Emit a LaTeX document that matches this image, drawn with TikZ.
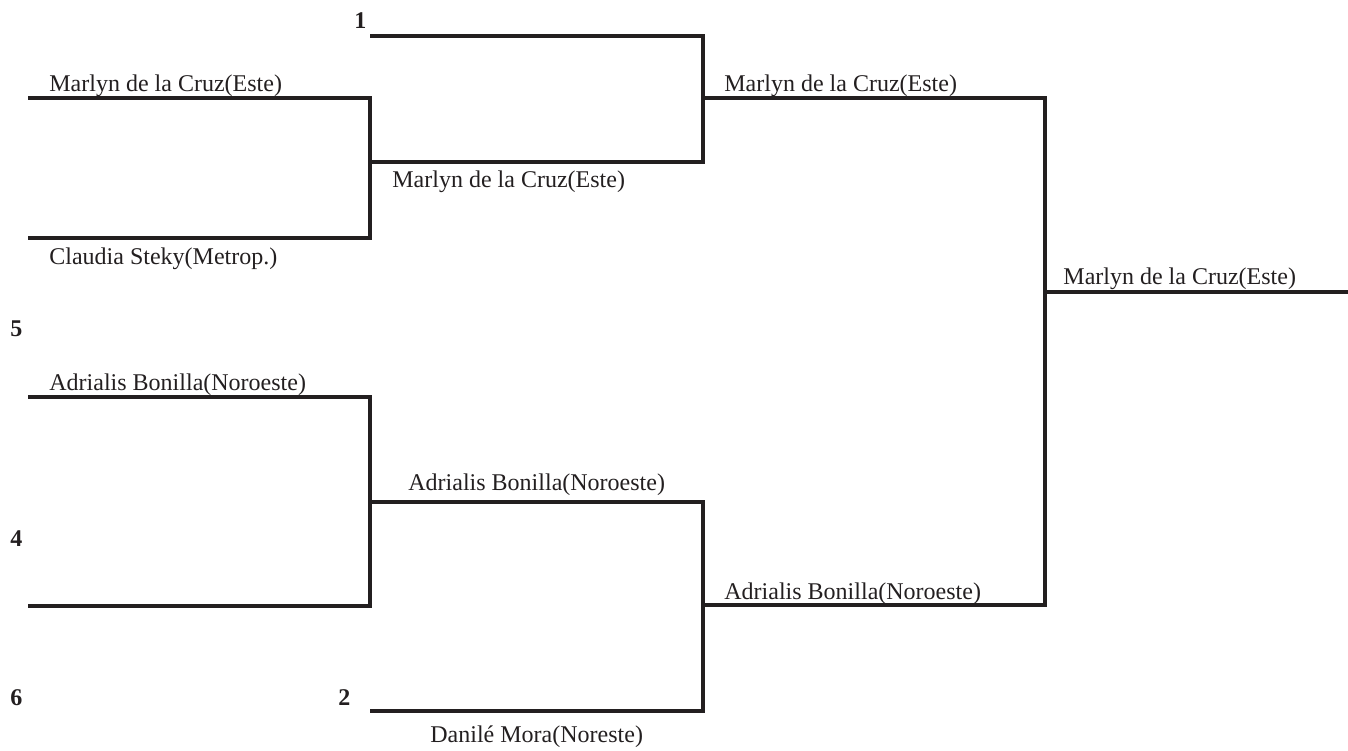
\documentclass[tikz,border=0pt]{standalone}
\usepackage{fontspec}
\setmainfont{Liberation Serif}
\usetikzlibrary{positioning}
\definecolor{lineink}{RGB}{35,31,32}
\tikzset{
    bracket/.style={line width=1.6pt, color=lineink},
    player/.style={font=\fontsize{12}{14}\selectfont, text=lineink, inner sep=0pt, anchor=base west},
    seed/.style={font=\fontsize{12}{14}\selectfont\bfseries, text=lineink, inner sep=0pt, anchor=base west}
}
\begin{document}
\begin{tikzpicture}[x=0.5pt, y=-0.5pt]
    \useasboundingbox (0,0) rectangle (1348,750);

    % first round
    \coordinate (a1) at (28,98);   \coordinate (a2) at (370,98);
    \coordinate (b1) at (28,238);  \coordinate (b2) at (370,238);
    \coordinate (c1) at (28,397);  \coordinate (c2) at (370,397);
    \coordinate (d1) at (28,606);  \coordinate (d2) at (370,606);
    % second round
    \coordinate (e1) at (370,36);  \coordinate (e2) at (703,36);
    \coordinate (f1) at (370,162); \coordinate (f2) at (703,162);
    \coordinate (g1) at (370,502); \coordinate (g2) at (703,502);
    \coordinate (h1) at (370,711); \coordinate (h2) at (703,711);
    % semifinal and final
    \coordinate (s1) at (703,98);  \coordinate (s2) at (1045,98);
    \coordinate (t1) at (703,605); \coordinate (t2) at (1045,605);
    \coordinate (w1) at (1045,292); \coordinate (w2) at (1348,292);

    \draw[bracket] (a1) -- (a2) -- (b2) -- (b1);
    \draw[bracket] (c1) -- (c2) -- (d2) -- (d1);
    \draw[bracket] (e1) -- (e2) -- (f2) -- (f1);
    \draw[bracket] (g1) -- (g2) -- (h2) -- (h1);
    \draw[bracket] (s1) -- (s2) -- (t2) -- (t1);
    \draw[bracket] (w1) -- (w2);

    \node[player] (pa) at (49,91) {Marlyn de la Cruz(Este)};
    \node[player] (pb) at (49,264) {Claudia Steky(Metrop.)};
    \node[player] (pc) at (49,390) {Adrialis Bonilla(Noroeste)};
    \node[player] (pf) at (392,187) {Marlyn de la Cruz(Este)};
    \node[player] (pg) at (408,490) {Adrialis Bonilla(Noroeste)};
    \node[player] (ph) at (430,742) {Danilé Mora(Noreste)};
    \node[player] (ps) at (724,91) {Marlyn de la Cruz(Este)};
    \node[player] (pt) at (724,599) {Adrialis Bonilla(Noroeste)};
    \node[player] (pw) at (1063,284) {Marlyn de la Cruz(Este)};

    \node[seed] (n1) at (354,28) {1};
    \node[seed] (n5) at (10,336) {5};
    \node[seed] (n4) at (10,546) {4};
    \node[seed] (n6) at (10,705) {6};
    \node[seed] (n2) at (338,705) {2};
\end{tikzpicture}
\end{document}
